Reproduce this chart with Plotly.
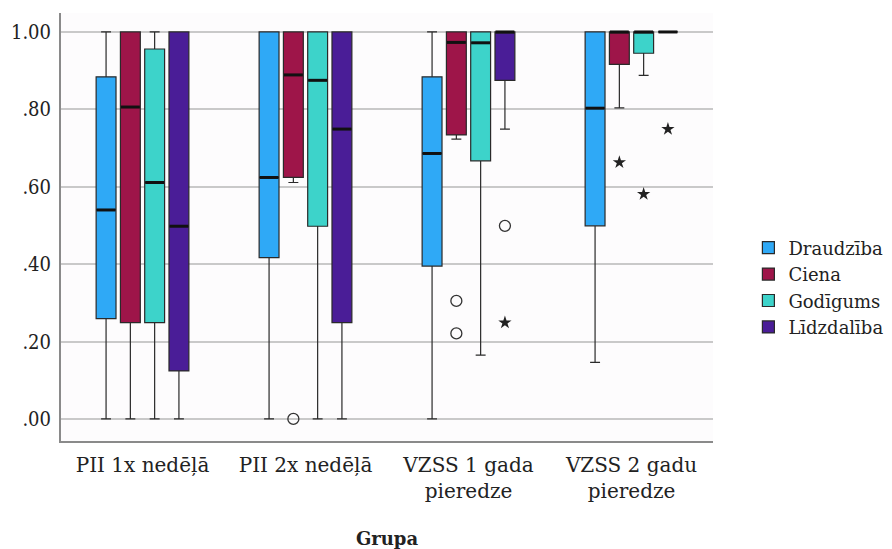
import plotly.graph_objects as go

groups = ["PII 1x nedēļā", "PII 2x nedēļā", "VZSS 1 gada<br>pieredze", "VZSS 2 gadu<br>pieredze"]
series = ["Draudzība", "Ciena", "Godīgums", "Līdzdalība"]
colors = ["#2FA9F6", "#9E1549", "#3DD3CA", "#4A1D97"]

# stats per series: lists over groups
q1 = {
    "Draudzība": [0.259, 0.417, 0.395, 0.499],
    "Ciena": [0.249, 0.624, 0.734, 0.916],
    "Godīgums": [0.249, 0.498, 0.667, 0.945],
    "Līdzdalība": [0.124, 0.249, 0.875, 1.0],
}
median = {
    "Draudzība": [0.540, 0.624, 0.686, 0.803],
    "Ciena": [0.806, 0.889, 0.973, 1.0],
    "Godīgums": [0.611, 0.875, 0.972, 1.0],
    "Līdzdalība": [0.498, 0.749, 1.0, 1.0],
}
q3 = {
    "Draudzība": [0.884, 1.0, 0.884, 1.0],
    "Ciena": [1.0, 1.0, 1.0, 1.0],
    "Godīgums": [0.956, 1.0, 1.0, 1.0],
    "Līdzdalība": [1.0, 1.0, 1.0, 1.0],
}
lower = {
    "Draudzība": [0.0, 0.0, 0.0, 0.146],
    "Ciena": [0.0, 0.611, 0.723, 0.804],
    "Godīgums": [0.0, 0.0, 0.165, 0.888],
    "Līdzdalība": [0.0, 0.0, 0.749, 1.0],
}
upper = {
    "Draudzība": [1.0, 1.0, 1.0, 1.0],
    "Ciena": [1.0, 1.0, 1.0, 1.0],
    "Godīgums": [1.0, 1.0, 1.0, 1.0],
    "Līdzdalība": [1.0, 1.0, 1.0, 1.0],
}
# outliers: (series, group index, value)
outliers_circle = [("Ciena", 1, 0.0), ("Ciena", 2, 0.305), ("Ciena", 2, 0.221), ("Līdzdalība", 2, 0.499)]
outliers_star = [("Līdzdalība", 2, 0.249), ("Ciena", 3, 0.663), ("Godīgums", 3, 0.581), ("Līdzdalība", 3, 0.749)]

y_ticks = [0.0, 0.2, 0.4, 0.6, 0.8, 1.0]
y_ticktext = [".00", ".20", ".40", ".60", ".80", "1.00"]

step = 0.149
bw = 0.122
offsets = {s: (i - 1.5) * step for i, s in enumerate(series)}

fig = go.Figure()
for s, c in zip(series, colors):
    xs = [g + offsets[s] for g in range(len(groups))]
    fig.add_trace(go.Box(
        name=s, x=xs, q1=q1[s], median=median[s], q3=q3[s],
        lowerfence=lower[s], upperfence=upper[s],
        fillcolor=c, line=dict(color="#2a2a2a", width=1.2),
        width=bw, whiskerwidth=0.5, boxpoints=False, showlegend=True,
        legendgroup=s, hoverinfo="skip",
    ))
# thick median lines
for s in series:
    xs = [g + offsets[s] for g in range(len(groups))]
    fig.add_trace(go.Scatter(
        x=xs, y=median[s], mode="markers", showlegend=False, hoverinfo="skip",
        marker=dict(symbol="line-ew", size=13.5, line=dict(color="#111111", width=3)),
    ))
fig.add_trace(go.Scatter(
    x=[g + offsets[s] for s, g, v in outliers_circle], y=[v for s, g, v in outliers_circle],
    mode="markers", showlegend=False, hoverinfo="skip",
    marker=dict(symbol="circle-open", size=11, color="#333333", line=dict(width=1.3)),
))
fig.add_trace(go.Scatter(
    x=[g + offsets[s] for s, g, v in outliers_star], y=[v for s, g, v in outliers_star],
    mode="markers", showlegend=False, hoverinfo="skip",
    marker=dict(symbol="star", size=10, color="#222222"),
))

serif = "DejaVu Serif, Liberation Serif"
serif_c = "DejaVu Serif Condensed, DejaVu Serif, Liberation Serif"
fig.update_layout(
    width=892, height=549,
    margin=dict(l=61, r=179, t=13, b=108),
    paper_bgcolor="white", plot_bgcolor="#fdfcfd",
    font=dict(family=serif, size=20, color="#222222"),
    legend=dict(xref="container", yref="container", x=0.839, y=0.582,
                xanchor="left", yanchor="top",
                font=dict(size=18, family=serif), tracegroupgap=0,
                traceorder="grouped", bgcolor="rgba(0,0,0,0)"),
    showlegend=True,
)
fig.update_xaxes(
    range=[-0.5, 3.5], tickvals=list(range(len(groups))), ticktext=groups,
    showgrid=False, zeroline=False, showline=True, linecolor="#8a8a8a", linewidth=2,
    ticks="", tickfont=dict(size=20, family=serif), ticklabelstandoff=5,
    automargin=False,
    title=dict(text="<b>Grupa</b>", font=dict(size=18, family=serif), standoff=30),
)
fig.update_yaxes(
    range=[-0.057, 1.049], tickvals=y_ticks, ticktext=y_ticktext,
    showgrid=True, gridcolor="#c9c9c9", gridwidth=1.5, zeroline=False,
    showline=True, linecolor="#8a8a8a", linewidth=2, ticks="",
    tickfont=dict(size=20, family=serif_c), ticklabelstandoff=4,
    automargin=False,
)
fig.write_html("out.html")
